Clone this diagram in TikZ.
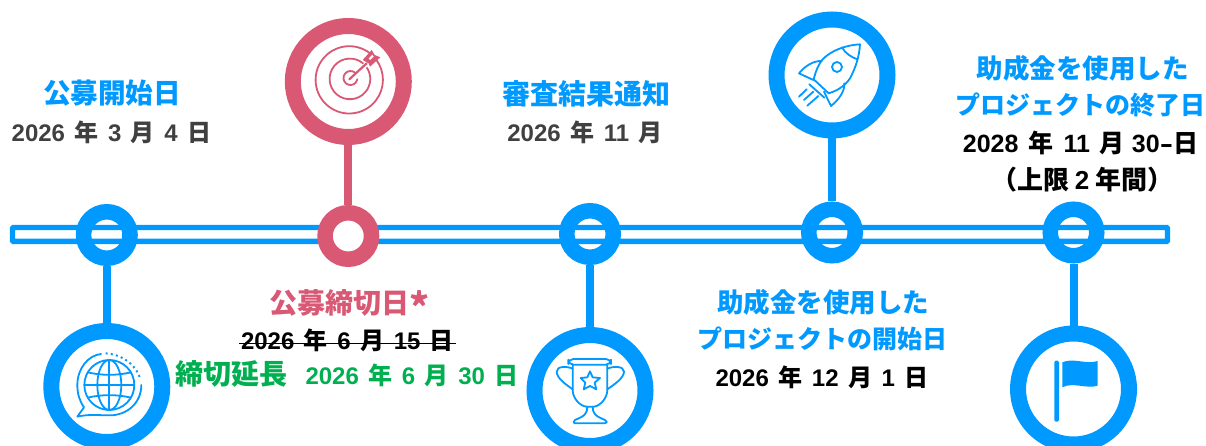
\documentclass[tikz,border=0pt]{standalone}
\usepackage{fontspec}
\newfontfamily\jp{Noto Sans CJK JP}
\newfontfamily\lat{Liberation Sans}
\definecolor{bl}{RGB}{0,153,255}
\definecolor{pk}{RGB}{217,89,117}
\definecolor{gn}{RGB}{0,176,80}
\definecolor{dg}{RGB}{64,64,64}
\newcommand{\D}[1]{{\lat #1}}
\newcommand{\Sp}{\hspace{9.5pt}}
\newcommand{\fs}[1]{\fontsize{#1}{#1}\selectfont}
\tikzset{
  x=1pt,y=-1pt,
  bigring/.style={circle,draw=#1,line width=16pt,minimum size=111pt,inner sep=0pt,fill=white},
  smallring/.style={circle,draw=#1,line width=15.5pt,minimum size=46.5pt,inner sep=0pt},
  conn/.style={draw=#1,line width=8pt},
  head/.style={font=\jp\bfseries\fs{27.6},inner sep=0pt,text=#1},
  date/.style={font=\jp\bfseries\fs{24},inner sep=0pt,text=#1},
  ico/.style={draw=#1,line width=1.8pt,line cap=round,line join=round},
  zoomed/.style={x=0.3333pt,y=-0.3333pt}
}
\begin{document}
\begin{tikzpicture}
\useasboundingbox (0,0) rectangle (1206,446);
\begin{scope}
\clip (0,0) rectangle (1206,446);
% bar
\node[draw=bl,line width=5.4pt,rounded corners=1pt,minimum width=1155pt,minimum height=13.9pt,inner sep=0pt] (bar) at (590,234.5) {};
% small rings
\node[smallring=bl] (s1) at (106.8,235) {};
\node[smallring=pk,fill=white] (s2) at (348.3,236) {};
\node[smallring=bl] (s3) at (590,234) {};
\node[smallring=bl] (s4) at (832,232.5) {};
\node[smallring=bl] (s5) at (1073.5,232.5) {};
% big rings
\node[bigring=bl] (b1) at (106.8,386.5) {};
\node[bigring=pk] (b2) at (348.3,81.5) {};
\node[bigring=bl] (b3) at (590,390.5) {};
\node[bigring=bl] (b4) at (832,75) {};
\node[bigring=bl] (b5) at (1073.5,389) {};
% connectors
\draw[conn=bl] (s1) -- (b1);
\draw[conn=pk] (s2) -- (b2);
\draw[conn=bl] (s3) -- (b3);
\draw[conn=bl] (s4) -- (b4);
\draw[conn=bl] (s5) -- (b5);
% globe icon
\begin{scope}[shift={(30,310)},zoomed]
\begin{scope}[ico=bl]
\draw (238,225) circle (75);
\draw (238,225) ellipse (36 and 75);
\draw (238,150) -- (238,300);
\draw (163,225) -- (313,225);
\draw (173,187) .. controls (215,197) and (261,197) .. (303,187);
\draw (173,263) .. controls (215,253) and (261,253) .. (303,263);
\draw (334,225) .. controls (334,280) and (290,316) .. (240,316)
  .. controls (205,316) and (175,312) .. (142,320)
  -- (162,292) .. controls (148,272) and (142,250) .. (142,225)
  .. controls (142,175) and (175,136) .. (213,132);
\end{scope}
\draw[bl,line width=2pt,dash pattern=on 2pt off 3.2pt] (227,130) .. controls (270,132) and (315,160) .. (330,203);
\end{scope}
% target icon
\begin{scope}[shift={(270,0)},zoomed]
\begin{scope}[ico=pk]
\draw (300,160) arc[start angle=-52,end angle=-398,radius=101];
\draw (279,190) arc[start angle=-50,end angle=-393,radius=61];
\draw (255,218) arc[start angle=-50,end angle=-350,radius=21];
\draw[line width=2.2pt] (238,238) -- (290,190);
\end{scope}
\fill[pk] (278,180) -- (305,150) -- (314,165) -- (331,172) -- (300,200) -- (296,190) -- cycle;
\fill[white] (296,176) -- (307,164) -- (311,170) -- (300,180) -- cycle;
\end{scope}
% trophy icon
\begin{scope}[shift={(510,310)},zoomed]
\begin{scope}[ico=bl]
\draw[rounded corners=5] (175,147) rectangle (303,164);
\draw (188,164) -- (188,240) .. controls (188,265) and (210,288) .. (229,290) -- (252,290) .. controls (270,288) and (292,265) .. (292,240) -- (292,164);
\draw (232,290) .. controls (232,310) and (225,318) .. (195,330) .. controls (188,335) and (190,340) .. (195,340) -- (285,340) .. controls (292,340) and (292,333) .. (285,330) .. controls (255,318) and (248,310) .. (248,290);
\draw (188,176) .. controls (170,168) and (140,168) .. (140,185) .. controls (140,205) and (170,225) .. (188,238);
\draw (292,176) .. controls (310,168) and (342,168) .. (342,185) .. controls (342,205) and (310,225) .. (292,238);
\draw (240,184) -- (248,202) -- (270,204) -- (254,218) -- (259,238) -- (240,228) -- (221,238) -- (226,218) -- (212,204) -- (232,202) -- cycle;
\end{scope}
\end{scope}
% rocket icon
\begin{scope}[shift={(750,0)},zoomed]
\begin{scope}[ico=bl]
\draw (330,133) .. controls (290,135) and (245,150) .. (218,178) .. controls (205,192) and (197,215) .. (191,238) -- (236,280) .. controls (262,272) and (285,258) .. (300,235) .. controls (316,205) and (328,170) .. (330,133) -- cycle;
\draw (276,142) .. controls (285,160) and (305,172) .. (322,178);
\draw (261,201) circle (15);
\draw (215,183) .. controls (190,182) and (165,198) .. (147,220) -- (190,240);
\draw (283,250) .. controls (285,275) and (265,300) .. (243,318) -- (222,275);
\draw (178,253) -- (223,293);
\draw (147,290) -- (170,268);
\draw (162,300) -- (190,275);
\draw (172,317) -- (205,288);
\end{scope}
\end{scope}
% flag icon
\begin{scope}[shift={(990,200)},zoomed]
\fill[bl,rounded corners=1.5] (193,665) -- (193,482) -- (207,482) -- (207,665) -- cycle;
\fill[bl] (217,487) .. controls (250,472) and (290,495) .. (323,483) -- (323,557) .. controls (290,568) and (250,545) .. (217,562) -- cycle;
\end{scope}
\end{scope}
% texts
\node[head=bl] (t1a) at (112,93) {公募開始日};
\node[date=dg] (t1b) at (111.5,132) {\D{2026}\Sp 年\Sp\D{3}\Sp 月\Sp\D{4}\Sp 日};
\node[head=pk,font=\jp\bfseries\fs{28}] (t2a) at (349.5,303) {公募締切日\smash{\raisebox{-8pt}{\fs{38}*}}};
\node[date=black] (t2b) at (347.5,340) {\D{2026}\Sp 年\Sp\D{6}\Sp 月\Sp\D{15}\Sp 日};
\draw[black,line width=1.5pt] ([xshift=-2pt]t2b.west |- 0,343.3) -- ([xshift=2pt]t2b.east |- 0,343.3);
\node[date=gn] (t2c) at (347,374) {\fs{28}締切延長\hspace{18pt}\fs{24}\D{2026}\Sp 年\Sp\D{6}\Sp 月\Sp\D{30}\Sp 日};
\node[head=bl,font=\jp\bfseries\fs{28}] (t3a) at (586,94) {審査結果通知};
\node[date=dg] (t3b) at (585,132) {\D{2026}\Sp 年\Sp\D{11}\Sp 月};
\node[head=bl,font=\jp\bfseries\fs{26.5}] (t4a) at (823,302) {助成金を使用した};
\node[head=bl,font=\jp\bfseries\fs{25}] (t4b) at (822,339) {プロジェクトの開始日};
\node[date=black] (t4c) at (822,377) {\D{2026}\Sp 年\Sp\D{12}\Sp 月\Sp\D{1}\Sp 日};
\node[head=bl,font=\jp\bfseries\fs{26.5}] (t5a) at (1082.5,68) {助成金を使用した};
\node[head=bl,font=\jp\bfseries\fs{25}] (t5b) at (1080,105) {プロジェクトの終了日};
\node[date=black,font=\jp\bfseries\fs{25}] (t5c) at (1080.5,143) {\D{2028}\hspace{10pt}年\hspace{10pt}\D{11}\hspace{10pt}月\hspace{7pt}\D{30}\scalebox{1.6}[1]{\D{-}}日};
\node[date=black,font=\jp\bfseries\fs{26}] (t5d) at (1082.5,180) {（上限\hspace{5pt}\D{2}\hspace{6pt}年間）};
\end{tikzpicture}
\end{document}
